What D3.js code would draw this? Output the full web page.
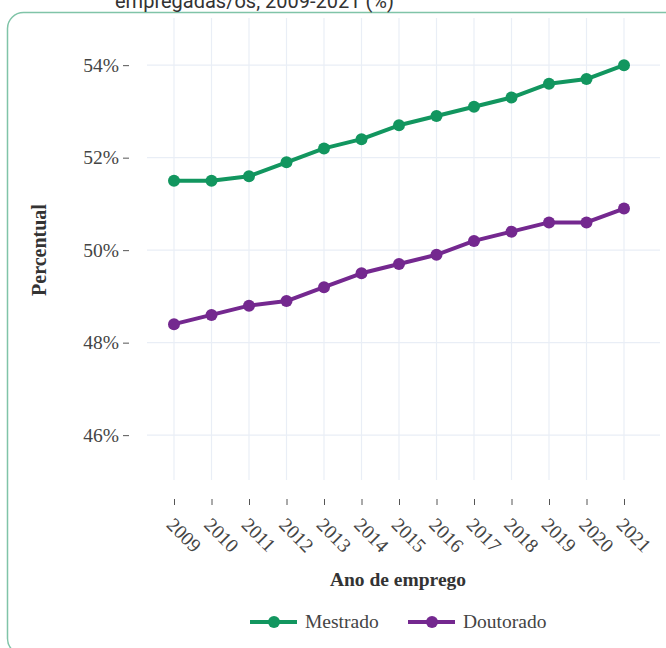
<!DOCTYPE html>
<html>
<head>
<meta charset="utf-8">
<script src="https://cdn.jsdelivr.net/npm/d3@7"></script>
<style>
  html, body { margin: 0; padding: 0; background: #fff; }
  svg { display: block; }
</style>
</head>
<body>
<div id="container"></div>
<script>
// data
var years = [2009, 2010, 2011, 2012, 2013, 2014, 2015, 2016, 2017, 2018, 2019, 2020, 2021];
var mestrado = [51.5, 51.5, 51.6, 51.9, 52.2, 52.4, 52.7, 52.9, 53.1, 53.3, 53.6, 53.7, 54.0];
var doutorado = [48.4, 48.6, 48.8, 48.9, 49.2, 49.5, 49.7, 49.9, 50.2, 50.4, 50.6, 50.6, 50.9];
var yTicks = [46, 48, 50, 52, 54];
var seriesNames = ["Mestrado", "Doutorado"];
var seriesColors = ["#12965f", "#74288f"];

function init() {
    var W = 666, H = 648;
    var serif = "'Liberation Serif', 'Times New Roman', serif";

    var svg = d3.select("#container")
        .append("svg")
        .attr("width", W)
        .attr("height", H);

    // card
    svg.append("rect")
        .attr("x", 7.5).attr("y", 12.5)
        .attr("width", 674).attr("height", 642)
        .attr("rx", 16)
        .attr("fill", "#fff")
        .attr("stroke", "#80c4a8")
        .attr("stroke-width", 1.5);

    // title cut off at top
    svg.append("text")
        .attr("x", 115).attr("y", 8)
        .style("font-family", "Roboto, sans-serif")
        .style("font-size", "20px")
        .attr("fill", "#333")
        .text("empregadas/os, 2009-2021 (%)");

    var x = d3.scaleLinear().domain([2008.28, 2021.96]).range([147, 660]);
    var y = d3.scaleLinear().domain([45.03, 55.02]).range([480, 18]);

    // grid
    var grid = svg.append("g");
    grid.selectAll(".vg").data(years).enter().append("line")
        .attr("x1", function (d) { return x(d); })
        .attr("x2", function (d) { return x(d); })
        .attr("y1", y.range()[1]).attr("y2", y.range()[0])
        .attr("stroke", "#e9eef6").attr("stroke-width", 1.2);
    grid.selectAll(".hg").data(yTicks).enter().append("line")
        .attr("x1", x.range()[0]).attr("x2", x.range()[1])
        .attr("y1", function (d) { return y(d); })
        .attr("y2", function (d) { return y(d); })
        .attr("stroke", "#e9eef6").attr("stroke-width", 1.2);

    // y axis
    var yAxis = svg.append("g")
        .attr("transform", "translate(129,0)")
        .call(d3.axisLeft(y).tickValues(yTicks).tickSize(6).tickPadding(4)
            .tickFormat(function (d) { return d + "%"; }));
    yAxis.select(".domain").remove();
    yAxis.selectAll(".tick line").attr("stroke", "#555");
    yAxis.selectAll(".tick text")
        .style("font-family", serif).style("font-size", "19.5px")
        .attr("fill", "#444");

    // x axis
    var xAxis = svg.append("g")
        .attr("transform", "translate(0,499)")
        .call(d3.axisBottom(x).tickValues(years).tickSize(6)
            .tickFormat(function (d) { return String(d); }));
    xAxis.select(".domain").remove();
    xAxis.selectAll(".tick line").attr("stroke", "#555");
    xAxis.selectAll(".tick text")
        .attr("y", 0).attr("dy", 0)
        .attr("transform", "translate(-9,27) rotate(45)")
        .attr("text-anchor", "start")
        .style("font-family", serif).style("font-size", "19.5px")
        .attr("fill", "#444");

    // axis titles
    svg.append("text")
        .attr("x", 398).attr("y", 586)
        .attr("text-anchor", "middle")
        .style("font-family", serif).style("font-size", "19.5px")
        .style("font-weight", "bold")
        .attr("fill", "#333")
        .text("Ano de emprego");

    svg.append("text")
        .attr("transform", "translate(46,250) rotate(-90)")
        .attr("text-anchor", "middle")
        .style("font-family", serif).style("font-size", "20px")
        .style("font-weight", "bold")
        .attr("fill", "#333")
        .text("Percentual");

    // lines
    var allSeries = [mestrado, doutorado];
    allSeries.forEach(function (vals, i) {
        var pts = years.map(function (yr, j) { return { year: yr, value: vals[j] }; });
        var lg = d3.line()
            .x(function (d) { return x(d.year); })
            .y(function (d) { return y(d.value); });
        svg.append("path")
            .datum(pts)
            .attr("d", lg)
            .attr("fill", "none")
            .attr("stroke", seriesColors[i])
            .attr("stroke-width", 4)
            .attr("stroke-linejoin", "round");
        svg.selectAll(".pt" + i)
            .data(pts)
            .enter()
            .append("circle")
            .attr("cx", function (d) { return x(d.year); })
            .attr("cy", function (d) { return y(d.value); })
            .attr("r", 6)
            .attr("fill", seriesColors[i]);
    });

    // legend
    var legX = [250, 408];
    seriesNames.forEach(function (name, i) {
        var g = svg.append("g").attr("transform", "translate(" + legX[i] + ",622)");
        g.append("line")
            .attr("x1", 0).attr("x2", 47)
            .attr("y1", 0).attr("y2", 0)
            .attr("stroke", seriesColors[i]).attr("stroke-width", 4);
        g.append("circle")
            .attr("cx", 24).attr("cy", 0).attr("r", 6)
            .attr("fill", seriesColors[i]);
        g.append("text")
            .attr("x", 55).attr("y", 6)
            .style("font-family", serif).style("font-size", "19.5px")
            .attr("fill", "#444")
            .text(name);
    });
}
init();
</script>
</body>
</html>
